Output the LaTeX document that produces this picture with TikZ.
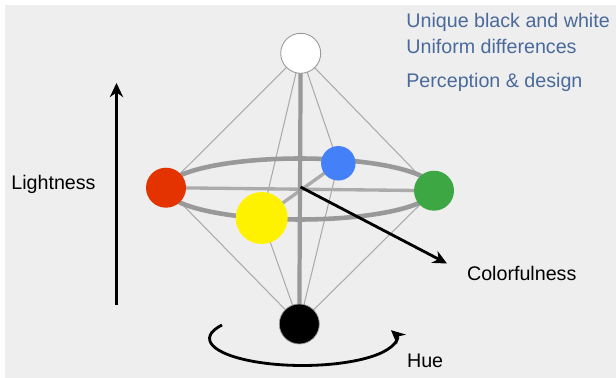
\documentclass[tikz,border=0pt]{standalone}
\usepackage{fontspec}
\setmainfont{Liberation Sans}
\usetikzlibrary{arrows.meta,backgrounds}
\definecolor{noteblue}{HTML}{4A6A9B}
\definecolor{huered}{HTML}{E53300}
\definecolor{huegreen}{HTML}{3DA843}
\definecolor{hueblue}{HTML}{4480F8}
\definecolor{bgray}{HTML}{EEEEEE}

\begin{document}
\begin{tikzpicture}[
    x=0.02cm, y=-0.02cm,
    dot/.style={circle, inner sep=0pt, minimum size=0.8cm},
    spoke/.style={draw=black!33, line width=0.6pt},
    bar/.style={draw=black!40, line width=2.4pt},
    arrow/.style={->, >={Stealth[length=8pt, width=7.5pt]}, line width=1.6pt, black},
    lbl/.style={anchor=base west, inner sep=0pt, font=\fontsize{11.2}{13}\selectfont},
]
\useasboundingbox (0,0) rectangle (616,378);
\node[dot, fill=white, draw=black!40, line width=0.5pt] (wht) at (300.7,53.3) {};
\node[dot, fill=huered] (red) at (166,187.7) {};
\node[dot, fill=huegreen] (grn) at (434,190.7) {};
\node[dot, fill=hueblue, minimum size=0.69cm] (blu) at (338.3,163.3) {};
\node[dot, fill=yellow, minimum size=1.04cm] (yel) at (261.7,218) {};
\node[dot, fill=black, draw=black!40, line width=0.4pt] (blk) at (299.3,324) {};
\coordinate (ctr) at (300.5,187);
\coordinate (colend) at (447,263.5);
\coordinate (lgtlow) at (116.5,305.5);
\coordinate (lgtup) at (116.5,83);
\coordinate (hue0) at (222,325);
\node[lbl, text=noteblue] (note1) at (406,27.3) {Unique black and white};
\node[lbl, text=noteblue] (note2) at (406,53.3) {Uniform differences};
\node[lbl, text=noteblue] (note3) at (406,87.3) {Perception \& design};
\node[lbl] (lightness) at (11,189.3) {Lightness};
\node[lbl] (colorfulness) at (466.7,280.7) {Colorfulness};
\node[lbl] (hue) at (406.7,367.3) {Hue};
\begin{scope}[on background layer]
\fill[bgray] (5,5) rectangle (616,378);
\foreach \c in {red,grn,blu,yel} {
    \draw[spoke] (wht.center) -- (\c.center);
    \draw[spoke] (blk.center) -- (\c.center);
}
\draw[bar, line width=2.6pt] (300,189) ellipse [x radius=2.68cm, y radius=0.61cm];
\draw[bar, draw=black!33, line width=1.9pt] (red.center) -- (grn.center);
\draw[bar, draw=black!33, line width=1.9pt] (yel.center) -- (blu.center);
\draw[bar] (wht.center) -- (blk.center);
\end{scope}
\draw[arrow] (ctr) -- (colend);
\draw[arrow] (lgtlow) -- (lgtup);
\draw[arrow] (hue0) arc[start angle=150, end angle=378, x radius=1.86cm, y radius=0.54cm];
\end{tikzpicture}
\end{document}
